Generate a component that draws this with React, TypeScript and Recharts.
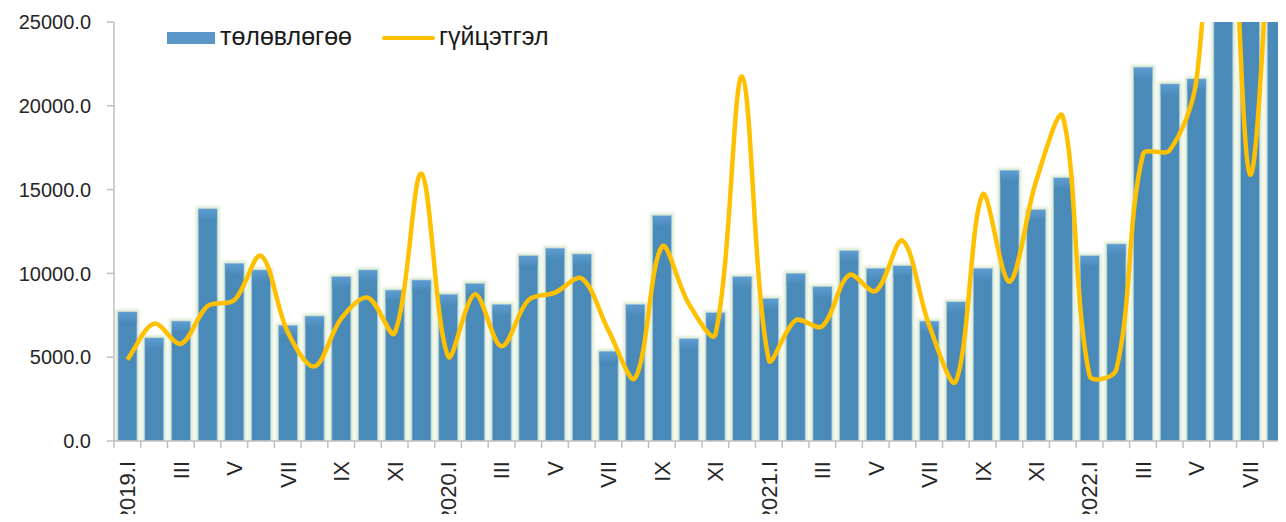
import { ComposedChart, Bar, Line, XAxis, YAxis } from "recharts"

const categories = [
  "2019.I", "2019.II", "2019.III", "2019.IV", "2019.V", "2019.VI",
  "2019.VII", "2019.VIII", "2019.IX", "2019.X", "2019.XI", "2019.XII",
  "2020.I", "2020.II", "2020.III", "2020.IV", "2020.V", "2020.VI",
  "2020.VII", "2020.VIII", "2020.IX", "2020.X", "2020.XI", "2020.XII",
  "2021.I", "2021.II", "2021.III", "2021.IV", "2021.V", "2021.VI",
  "2021.VII", "2021.VIII", "2021.IX", "2021.X", "2021.XI", "2021.XII",
  "2022.I", "2022.II", "2022.III", "2022.IV", "2022.V", "2022.VI",
  "2022.VII", "2022.VIII",
]

// label shown under every second month
const tickLabels = [
  "2019.I", "", "III", "", "V", "", "VII", "", "IX", "", "XI", "",
  "2020.I", "", "III", "", "V", "", "VII", "", "IX", "", "XI", "",
  "2021.I", "", "III", "", "V", "", "VII", "", "IX", "", "XI", "",
  "2022.I", "", "III", "", "V", "", "VII", "",
]

const plan = [
  7700, 6150, 7150, 13850, 10600, 10200, 6900, 7450, 9800, 10200, 9000, 9600,
  8750, 9400, 8150, 11050, 11500, 11150, 5350, 8150, 13450, 6100, 7650, 9800,
  8500, 10000, 9200, 11350, 10300, 10450, 7150, 8300, 10300, 16150, 13800, 15700,
  11050, 11750, 22300, 21300, 21600, 27000, 27500, 28000,
]

const actual = [
  4850, 7000, 5800, 8050, 8400, 11050, 6500, 4450, 7300, 8550, 6450, 15950,
  5050, 8750, 5650, 8400, 8850, 9700, 6600, 3750, 11600, 8200, 6350, 21750,
  4850, 7200, 6850, 9900, 8950, 11950, 6900, 3550, 14700, 9500, 15500, 19350,
  3900, 4250, 17100, 17350, 21550, 42000, 15900, 38000,
]

const yTicks = [0, 5000, 10000, 15000, 20000, 25000]

const data = categories.map((name, i) => ({
  name,
  plan: plan[i],
  actual: actual[i],
}))

const CHART_W = 1282
const Y_AXIS_W = 106
const STEP = (CHART_W - Y_AXIS_W) / categories.length
const FONT = "'Liberation Sans', Arial, sans-serif"
const TENSION = 1 / 3

const dist = (a: number[], b: number[]) => Math.hypot(b[0] - a[0], b[1] - a[1])

// excel-like smoothing: bezier arms scaled by neighbouring segment lengths
const smoothCurve = (ctx: any) => {
  let pts: number[][] = []
  return {
    areaStart() {},
    areaEnd() {},
    lineStart() {
      pts = []
    },
    point(x: number, y: number) {
      pts.push([+x, +y])
    },
    lineEnd() {
      if (!pts.length) return
      ctx.moveTo(pts[0][0], pts[0][1])
      for (let i = 0; i < pts.length - 1; i++) {
        const p0 = pts[i - 1] || pts[i]
        const p1 = pts[i]
        const p2 = pts[i + 1]
        const p3 = pts[i + 2] || p2
        const d01 = dist(p0, p1)
        const d12 = dist(p1, p2)
        const d23 = dist(p2, p3)
        const f1 = d01 + d12 > 0 ? (TENSION * d12) / (d01 + d12) : 0
        const f2 = d12 + d23 > 0 ? (TENSION * d12) / (d12 + d23) : 0
        ctx.bezierCurveTo(
          p1[0] + (p2[0] - p0[0]) * f1,
          p1[1] + (p2[1] - p0[1]) * f1,
          p2[0] - (p3[0] - p1[0]) * f2,
          p2[1] - (p3[1] - p1[1]) * f2,
          p2[0],
          p2[1]
        )
      }
    },
  }
}

function MonthTick(props: any) {
  const { x, y, payload } = props
  const idx = categories.indexOf(payload.value)
  const label = tickLabels[idx]
  const left = x - STEP / 2
  return (
    <g>
      <line x1={left} y1={y} x2={left} y2={y + 7} stroke="#bfbfbf" strokeWidth={1.5} />
      {label ? (
        <text
          x={x}
          y={y + 20}
          dy="0.36em"
          transform={`rotate(-90, ${x}, ${y + 20})`}
          textAnchor="end"
          fontSize={22}
          fontFamily={FONT}
          fill="#262626"
        >
          {label}
        </text>
      ) : null}
    </g>
  )
}

function PlanBar(props: any) {
  const { x, y, width, height } = props
  if (!height || height <= 0) return null
  return (
    <g filter="url(#barGlow)">
      <rect x={x} y={y} width={width} height={height} fill="#4a8ab8" stroke="#a8c7e0" strokeWidth={0.8} />
      <rect x={x + 0.5} y={y + 0.5} width={width - 1} height={Math.min(11, height)} fill="url(#barTop)" />
    </g>
  )
}

export default function App() {
  return (
    <div style={{ position: "relative", width: 1278, height: 514, marginBottom: -8, overflow: "hidden" }}>
      <ComposedChart
        width={CHART_W}
        height={514}
        data={data}
        margin={{ top: 14, right: 0, bottom: 0, left: 0 }}
        barSize={19}
      >
        <defs>
          <linearGradient id="barTop" x1="0" y1="0" x2="0" y2="1">
            <stop offset="0%" stopColor="#5d9cd2" />
            <stop offset="100%" stopColor="#4a8ab8" />
          </linearGradient>
          <filter id="barGlow" x="-40%" y="-5%" width="180%" height="110%">
            <feMorphology in="SourceAlpha" operator="dilate" radius="1.5" result="grown" />
            <feGaussianBlur in="grown" stdDeviation="1.5" result="blur" />
            <feFlood floodColor="#d9eacd" />
            <feComposite in2="blur" operator="in" result="glow" />
            <feMerge>
              <feMergeNode in="glow" />
              <feMergeNode in="SourceGraphic" />
            </feMerge>
          </filter>
        </defs>
        <XAxis
          dataKey="name"
          height={81}
          interval={0}
          tickSize={0}
          tickMargin={0}
          tickLine={false}
          axisLine={{ stroke: "#bfbfbf", strokeWidth: 1.5 }}
          tick={<MonthTick />}
        />
        <YAxis
          width={Y_AXIS_W}
          domain={[0, 25000]}
          ticks={yTicks}
          allowDataOverflow
          tickFormatter={(v) => Number(v).toFixed(1)}
          tickSize={7}
          tickMargin={16}
          tickLine={{ stroke: "#bfbfbf", strokeWidth: 1.5 }}
          axisLine={{ stroke: "#bfbfbf", strokeWidth: 1.5 }}
          tick={{ fontSize: 20, fontFamily: FONT, fill: "#262626" }}
        />
        <Bar dataKey="plan" shape={<PlanBar />} isAnimationActive={false} />
        <Line
          dataKey="actual"
          type={smoothCurve as any}
          stroke="#ffc000"
          strokeWidth={4.5}
          dot={false}
          activeDot={false}
          isAnimationActive={false}
        />
      </ComposedChart>
      <div
        style={{
          position: "absolute",
          left: 0,
          top: 0,
          fontFamily: FONT,
          fontSize: 25,
          lineHeight: "25px",
          color: "#1a1a1a",
          pointerEvents: "none",
        }}
      >
        <div style={{ position: "absolute", left: 159, top: 24, width: 48, height: 12, background: "#5b96c8" }} />
        <span style={{ position: "absolute", left: 212, top: 16, whiteSpace: "nowrap" }}>төлөвлөгөө</span>
        <div
          style={{ position: "absolute", left: 374, top: 27.5, width: 53, height: 4.5, borderRadius: 3, background: "#ffc000" }}
        />
        <span style={{ position: "absolute", left: 431, top: 16, whiteSpace: "nowrap" }}>гүйцэтгэл</span>
      </div>
    </div>
  )
}
